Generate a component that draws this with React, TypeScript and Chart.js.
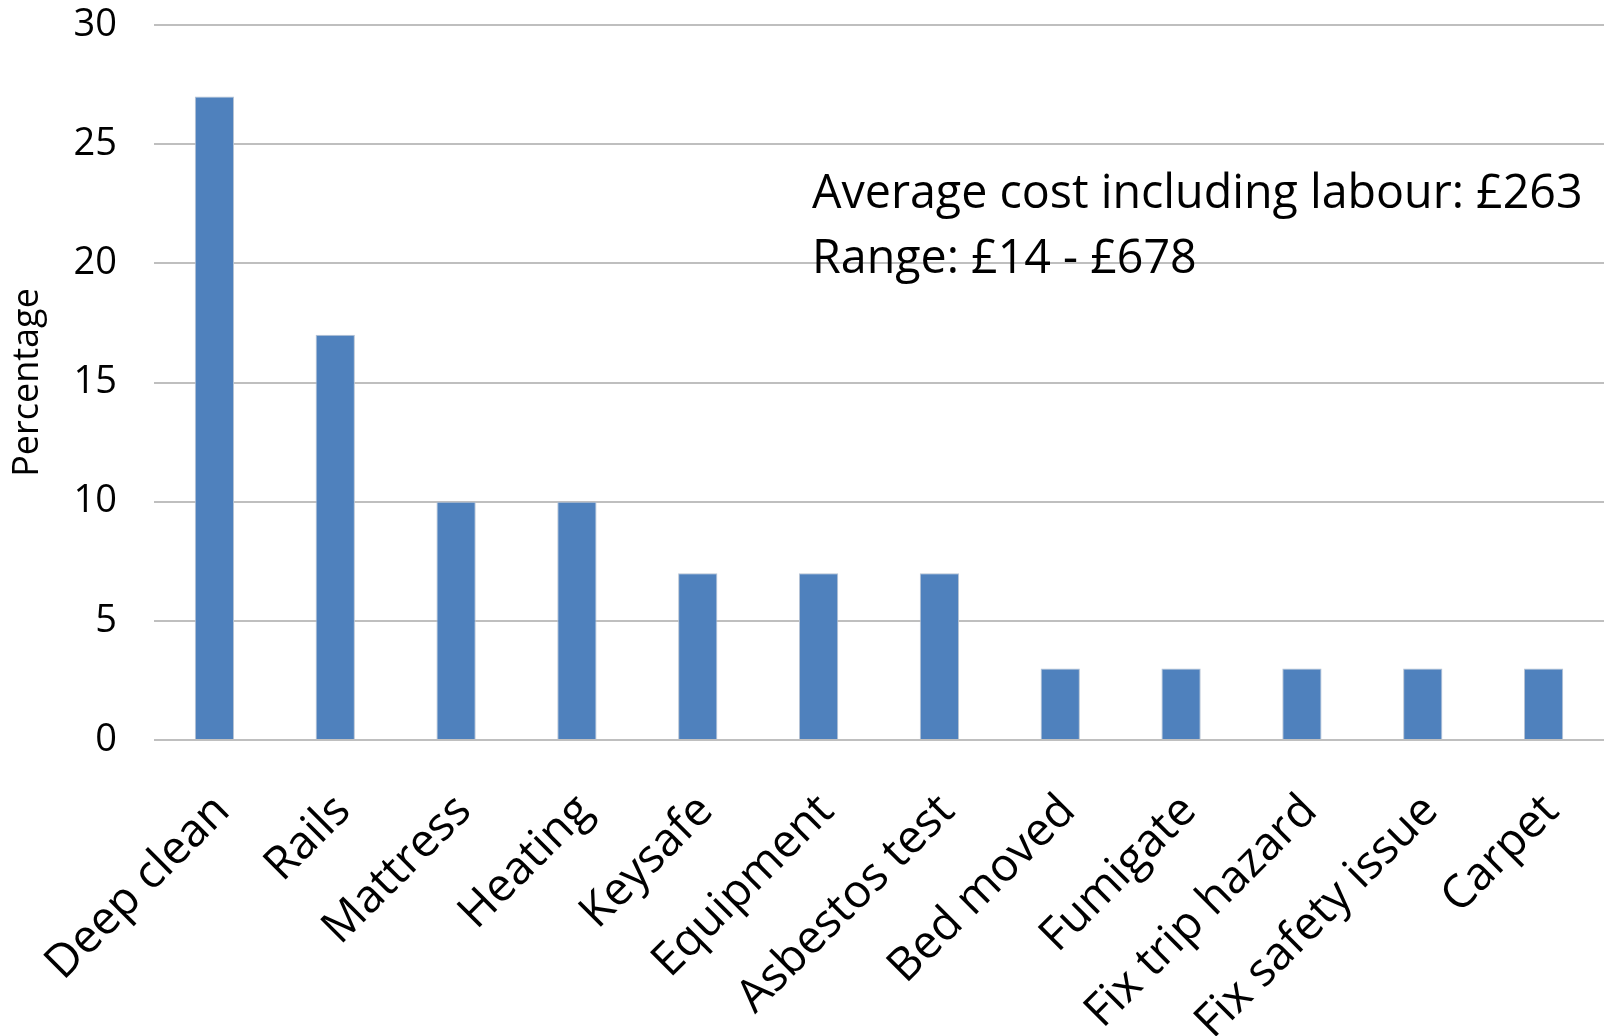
import React, { useEffect, useRef } from "react";
import { Chart, registerables } from "chart.js";

Chart.register(...registerables);

const categories = [
  "Deep clean",
  "Rails",
  "Mattress",
  "Heating",
  "Keysafe",
  "Equipment",
  "Asbestos test",
  "Bed moved",
  "Fumigate",
  "Fix trip hazard",
  "Fix safety issue",
  "Carpet",
];
const percentages = [27, 17, 10, 10, 7, 7, 7, 3, 3, 3, 3, 3];
const yTicks = [0, 5, 10, 15, 20, 25, 30];
const annotationLines = ["Average cost including labour: £263", "Range: £14 - £678"];
const yTitle = "Percentage";

const FONT = '"Open Sans", "DejaVu Sans", sans-serif';

const annotationPlugin = {
  id: "costAnnotation",
  afterDraw(chart: any) {
    const { ctx } = chart;
    ctx.save();
    ctx.font = `46.6px ${FONT}`;
    ctx.fillStyle = "#000";
    ctx.textAlign = "left";
    ctx.textBaseline = "alphabetic";
    ctx.fillText(annotationLines[0], 812, 208);
    ctx.fillText(annotationLines[1], 812, 273);
    ctx.restore();
  },
};

export default function App() {
  const ref = useRef<HTMLCanvasElement | null>(null);

  useEffect(() => {
    if (!ref.current) return;
    const chart = new Chart(ref.current, {
      type: "bar",
      data: {
        labels: categories,
        datasets: [
          {
            data: percentages,
            backgroundColor: "#4F81BD",
            borderColor: "#b7c3d3",
            borderWidth: 1,
            categoryPercentage: 1,
            barPercentage: 0.325,
          },
        ],
      },
      options: {
        animation: false,
        responsive: false,
        devicePixelRatio: 1,
        layout: { padding: { top: 25, right: 0, bottom: 0, left: 0 } },
        plugins: {
          legend: { display: false },
          tooltip: { enabled: false },
        },
        scales: {
          x: {
            grid: { display: false, drawTicks: false },
            border: { display: false },
            ticks: {
              autoSkip: false,
              minRotation: 45,
              maxRotation: 45,
              padding: 44,
              labelOffset: 8,
              color: "#000",
              font: { family: FONT, size: 46 },
            },
            afterFit(scale: any) {
              scale.height = 296;
              scale.paddingLeft = 0;
              scale.paddingRight = 0;
            },
          },
          y: {
            min: 0,
            max: 30,
            afterBuildTicks(scale: any) {
              scale.ticks = yTicks.map((v) => ({ value: v }));
            },
            grid: { color: "#bfbfbf", lineWidth: 2, drawTicks: false },
            border: { display: false },
            ticks: {
              padding: 37,
              color: "#000",
              font: { family: FONT, size: 38 },
            },
            title: {
              display: true,
              text: yTitle,
              color: "#000",
              font: { family: FONT, size: 36 },
              padding: { top: 6, bottom: 0 },
            },
            afterFit(scale: any) {
              scale.width = 154;
              scale.paddingTop = 0;
              scale.paddingBottom = 0;
            },
          },
        },
      },
      plugins: [annotationPlugin],
    });
    return () => chart.destroy();
  }, []);

  return (
    <div style={{ position: "absolute", left: 0, top: 0, width: 1604, height: 1036, background: "#fff" }}>
      <canvas ref={ref} width={1604} height={1036} />
    </div>
  );
}
